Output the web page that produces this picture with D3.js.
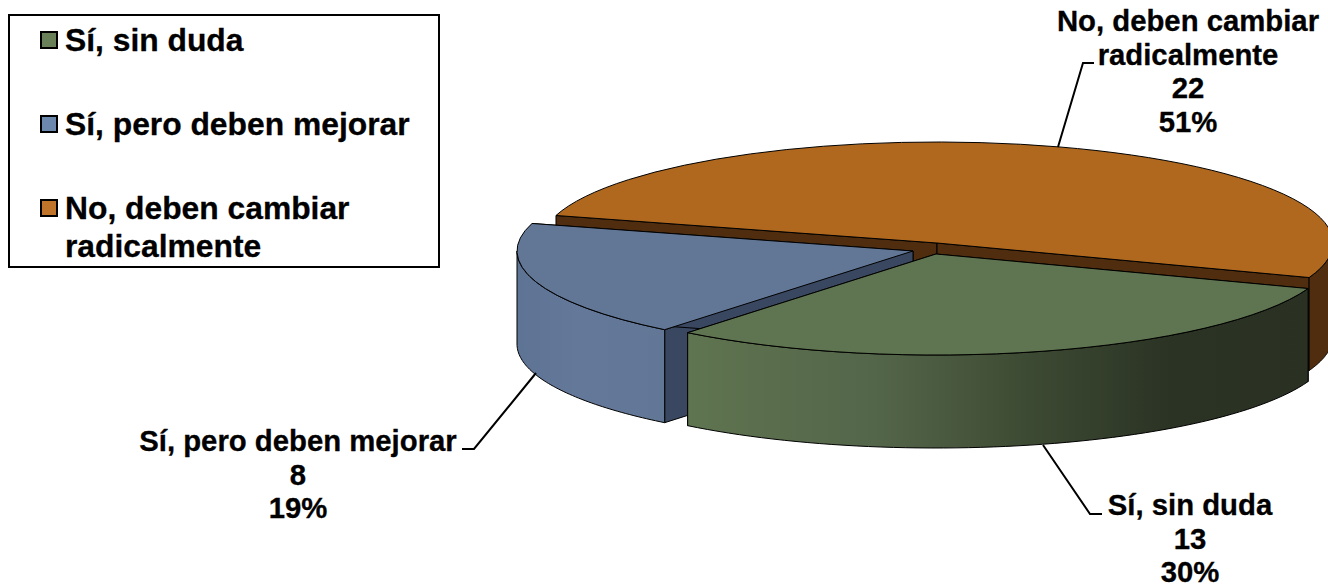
<!DOCTYPE html>
<html>
<head>
<meta charset="utf-8">
<script src="https://cdn.jsdelivr.net/npm/d3@7"></script>
<style>
  html, body { margin: 0; padding: 0; background: #fff; overflow: hidden; }
  text { font-family: "Liberation Sans", Arial, sans-serif; font-weight: bold; fill: #000; stroke: #000; stroke-width: 0.3px; }
</style>
</head>
<body>
<div id="vis"></div>
<script>
const categories = ["Sí, sin duda", "Sí, pero deben mejorar", "No, deben cambiar radicalmente"];
const values = [13, 8, 22];
const wrappedNames = [["Sí, sin duda"], ["Sí, pero deben mejorar"], ["No, deben cambiar", "radicalmente"]];

const FRAME_WIDTH = 1328;
const FRAME_HEIGHT = 587;
const RX = 396;
const RY = 101;
const DEPTH = 93;

const TOP_COLORS = ["#5f7450", "#627796", "#b0681f"];
const INNER_COLORS = ["#3a4730", "#3a4760", "#4f2d0e"];
const SWATCH_COLORS = ["#6a8058", "#6c88ad", "#c0742a"];
// where each slice's apex sits after the explosion
const CENTERS = [[936, 254], [913, 251], [937, 243]];

const FRAME = d3.select("#vis").append("svg")
  .attr("width", FRAME_WIDTH)
  .attr("height", FRAME_HEIGHT);

const defs = FRAME.append("defs");
function sideGradient(id, stops) {
  const g = defs.append("linearGradient").attr("id", id).attr("x1", 0).attr("x2", 1).attr("y1", 0).attr("y2", 0);
  stops.forEach(s => g.append("stop").attr("offset", s[0]).attr("stop-color", s[1]));
}
sideGradient("side0", [[0, "#5f7450"], [0.3, "#54664a"], [0.55, "#3d4a33"], [0.78, "#2b3324"], [1, "#2a3123"]]);
sideGradient("side1", [[0, "#5e7494"], [0.4, "#64789a"], [1, "#627796"]]);
sideGradient("side2", [[0, "#4f2d0e"], [1, "#4f2d0e"]]);

// d3.pie angles: 0 at 12 o'clock, clockwise. Rotated so the first slice starts on the right
const PIE = d3.pie().sort(null)
  .startAngle(110 * Math.PI / 180)
  .endAngle(470 * Math.PI / 180);
const slices = PIE(values);

const ARC = d3.arc().innerRadius(0).outerRadius(RX);
const LINE = d3.line();

const pt = (i, a, dy) => [
  CENTERS[i][0] + RX * Math.sin(a),
  CENTERS[i][1] - RY * Math.cos(a) + (dy || 0)
];

// outer wall, only the part facing the viewer
function wallPaths(i, s) {
  const out = [];
  [[Math.PI / 2, 3 * Math.PI / 2], [5 * Math.PI / 2, 7 * Math.PI / 2]].forEach(w => {
    const a0 = Math.max(s.startAngle, w[0]);
    const a1 = Math.min(s.endAngle, w[1]);
    if (a1 <= a0) return;
    const steps = d3.range(0, 61).map(k => a0 + (a1 - a0) * k / 60);
    const top = steps.map(a => pt(i, a));
    const bottom = steps.map(a => pt(i, a, DEPTH)).reverse();
    out.push(LINE(top.concat(bottom)) + "Z");
  });
  return out;
}

function innerFace(i, a) {
  return LINE([pt(i, a), [CENTERS[i][0], CENTERS[i][1]], [CENTERS[i][0], CENTERS[i][1] + DEPTH], pt(i, a, DEPTH)]) + "Z";
}

const pieG = FRAME.append("g").attr("stroke", "#000").attr("stroke-width", 1).attr("stroke-linejoin", "round");

// back to front: orange, blue, green
[2, 1, 0].forEach(i => {
  const s = slices[i];
  [s.startAngle, s.endAngle].forEach(a => {
    pieG.append("path").attr("d", innerFace(i, a)).attr("fill", INNER_COLORS[i]);
  });
  wallPaths(i, s).forEach(d => {
    pieG.append("path").attr("d", d).attr("fill", "url(#side" + i + ")");
  });
  pieG.append("path")
    .attr("d", ARC(s))
    .attr("transform", "translate(" + CENTERS[i][0] + "," + CENTERS[i][1] + ") scale(1," + (RY / RX) + ")")
    .attr("vector-effect", "non-scaling-stroke")
    .attr("fill", TOP_COLORS[i]);
});

// leader lines
const LEADERS = [
  [[1043, 445], [1090, 514], [1102, 514]],
  [[536, 373], [474, 449], [462, 449]],
  [[1058, 147], [1083, 63], [1094, 63]]
];
FRAME.append("g").selectAll("path").data(LEADERS).enter().append("path")
  .attr("d", d => LINE(d))
  .attr("fill", "none")
  .attr("stroke", "#000")
  .attr("stroke-width", 2);

// data labels
const total = d3.sum(values);
const PCT = d3.format(".0%");
const LABEL_POS = [[1190, 515], [298, 451], [1188, 31]];
const LABEL_STEP = 33.7;
const LABEL_SIZE = 29.3;
values.forEach((v, i) => {
  const lines = wrappedNames[i].concat([String(v), PCT(v / total)]);
  const t = FRAME.append("text")
    .attr("text-anchor", "middle")
    .attr("font-size", LABEL_SIZE);
  lines.forEach((l, k) => {
    t.append("tspan")
      .attr("x", LABEL_POS[i][0])
      .attr("y", LABEL_POS[i][1] + k * LABEL_STEP)
      .text(l);
  });
});

// legend
FRAME.append("rect")
  .attr("x", 9).attr("y", 15).attr("width", 430).attr("height", 252)
  .attr("fill", "#fff").attr("stroke", "#000").attr("stroke-width", 2);
const LEGEND_Y = [51, 135, 219];
categories.forEach((c, i) => {
  FRAME.append("rect")
    .attr("x", 41).attr("y", LEGEND_Y[i] - 19).attr("width", 16).attr("height", 16)
    .attr("fill", SWATCH_COLORS[i]).attr("stroke", "#000").attr("stroke-width", 2);
  wrappedNames[i].forEach((l, k) => {
    FRAME.append("text")
      .attr("x", 65)
      .attr("y", LEGEND_Y[i] + k * 38)
      .attr("font-size", 31.8)
      .text(l);
  });
});
</script>
</body>
</html>
